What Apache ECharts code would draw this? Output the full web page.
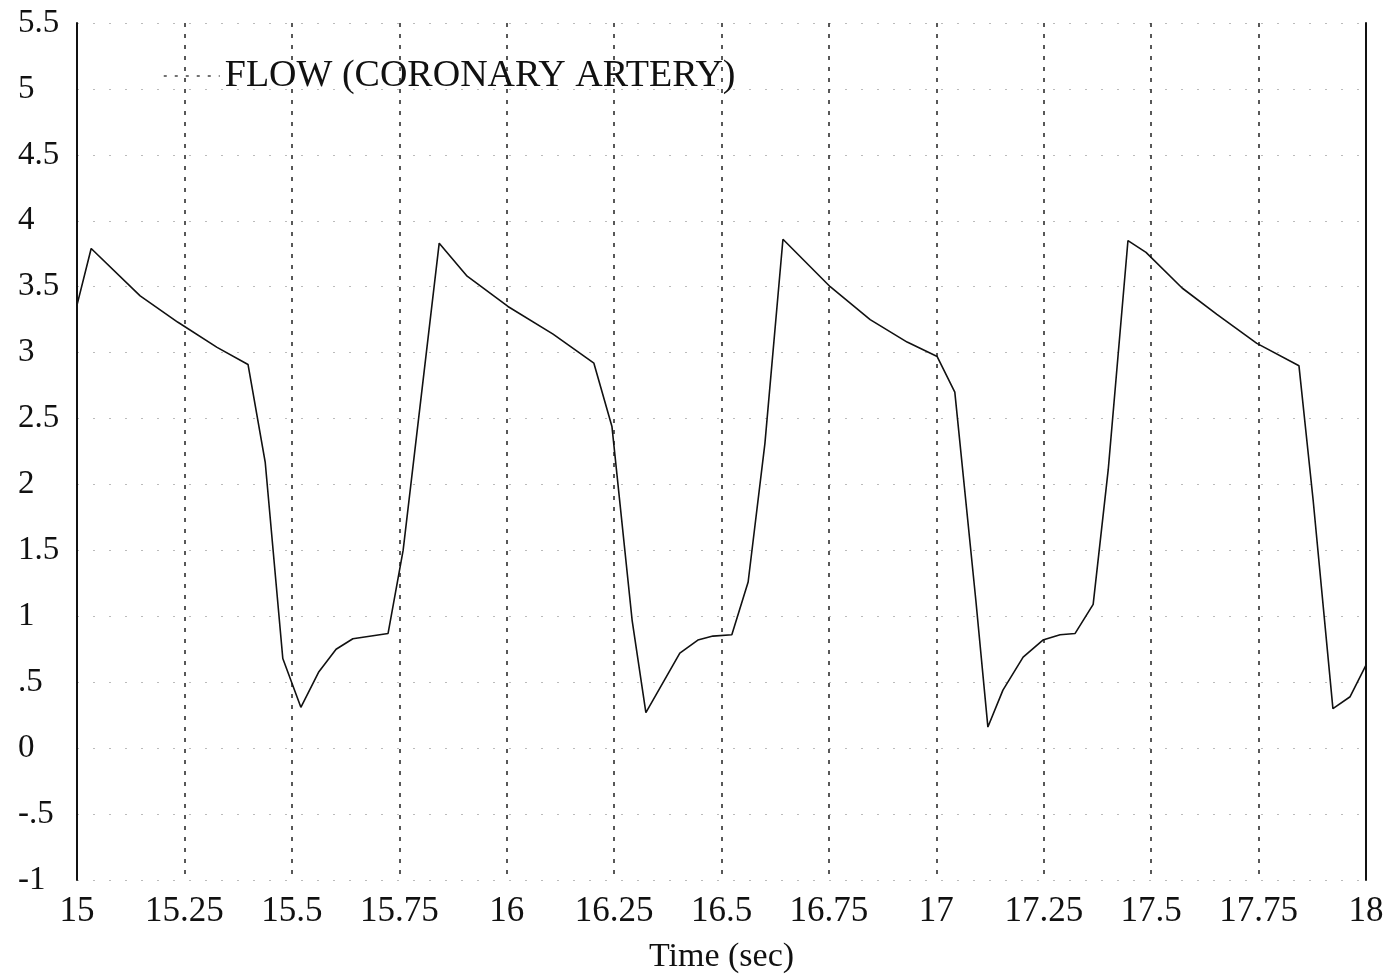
<!DOCTYPE html>
<html>
<head>
<meta charset="utf-8">
<title>Flow (coronary artery)</title>
<script src="https://cdn.jsdelivr.net/npm/echarts@6/dist/echarts.min.js"></script>
<style>
  html, body { margin: 0; padding: 0; background: #fff; }
  #main { width: 1393px; height: 977px; }
</style>
</head>
<body>
<div id="main"></div>
<script>
// time (sec) and flow
var timeSec = [15.000, 15.033, 15.147, 15.235, 15.326, 15.398, 15.438, 15.479, 15.521, 15.563,
  15.603, 15.642, 15.724, 15.759, 15.843, 15.908, 16.003, 16.108, 16.203, 16.245,
  16.292, 16.324, 16.403, 16.445, 16.480, 16.524, 16.562, 16.601, 16.643, 16.753,
  16.846, 16.932, 17.002, 17.043, 17.092, 17.120, 17.155, 17.202, 17.248, 17.288,
  17.323, 17.365, 17.400, 17.446, 17.488, 17.572, 17.653, 17.746, 17.844, 17.877,
  17.923, 17.963, 18.000]
var flow = [3.36, 3.79, 3.43, 3.23, 3.04, 2.91, 2.17, 0.68, 0.31, 0.58,
  0.75, 0.83, 0.87, 1.50, 3.83, 3.58, 3.35, 3.14, 2.92, 2.44,
  0.97, 0.27, 0.72, 0.82, 0.85, 0.86, 1.26, 2.31, 3.86, 3.50,
  3.25, 3.08, 2.97, 2.70, 1.12, 0.16, 0.44, 0.69, 0.82, 0.86,
  0.87, 1.09, 2.11, 3.85, 3.76, 3.49, 3.29, 3.07, 2.90, 1.88,
  0.30, 0.39, 0.63]

var yTicks = [5.5, 5, 4.5, 4, 3.5, 3, 2.5, 2, 1.5, 1, 0.5, 0, -0.5, -1]
var yTickLabels = ['5.5', '5', '4.5', '4', '3.5', '3', '2.5', '2', '1.5', '1', '.5', '0', '-.5', '-1']

var seriesName = 'FLOW (CORONARY ARTERY)'

var points = []
for (var i = 0; i < timeSec.length; i++) {
  points.push([timeSec[i], flow[i]])
}

var serif = '"Liberation Serif", "DejaVu Serif", serif'

var myChart = echarts.init(document.getElementById('main'))
var option = {
  backgroundColor: '#fff',
  animation: false,
  grid: { left: 77, right: 27, top: 23, bottom: 97, outerBoundsMode: 'none', containLabel: false },
  legend: {
    data: [seriesName],
    left: 158,
    top: 52,
    itemWidth: 56,
    itemHeight: 14,
    itemGap: 14,
    textStyle: { color: '#111', fontSize: 38, fontFamily: serif },
    itemStyle: { opacity: 0 },
    lineStyle: { type: [3, 8], width: 1.5, color: '#444' }
  },
  xAxis: {
    type: 'value',
    min: 15,
    max: 18,
    interval: 0.25,
    name: 'Time (sec)',
    nameLocation: 'middle',
    nameGap: 60,
    nameTextStyle: { color: '#111', fontSize: 34, fontFamily: serif },
    axisLine: { show: false },
    axisTick: { show: false },
    axisLabel: {
      color: '#111',
      fontSize: 35,
      fontFamily: serif,
      margin: 14,
      formatter: function (v) { return String(v) }
    },
    splitLine: {
      show: true,
      lineStyle: { color: '#222', width: 1.5, type: [4, 7] }
    }
  },
  yAxis: [
    {
      type: 'value',
      min: -1,
      max: 5.5,
      interval: 0.5,
      axisLine: { show: true, onZero: false, lineStyle: { color: '#111', width: 2 } },
      axisTick: { show: false },
      axisLabel: {
        color: '#111',
        fontSize: 33,
        fontFamily: serif,
        align: 'left',
        margin: 59,
        formatter: function (v) {
          var k = yTicks.indexOf(v)
          return k >= 0 ? yTickLabels[k] : ''
        }
      },
      splitLine: {
        show: true,
        lineStyle: { color: '#bbb', width: 1, type: [2, 14] }
      }
    },
    {
      type: 'value',
      position: 'right',
      min: -1,
      max: 5.5,
      interval: 0.5,
      axisLine: { show: true, lineStyle: { color: '#111', width: 2 } },
      axisTick: { show: false },
      axisLabel: { show: false },
      splitLine: { show: false }
    }
  ],
  series: [
    {
      name: seriesName,
      type: 'line',
      yAxisIndex: 0,
      data: points,
      symbol: 'none',
      smooth: false,
      itemStyle: { color: '#111' },
      lineStyle: { color: '#111', width: 1.6 }
    }
  ]
}
myChart.setOption(option, true)
</script>
</body>
</html>
